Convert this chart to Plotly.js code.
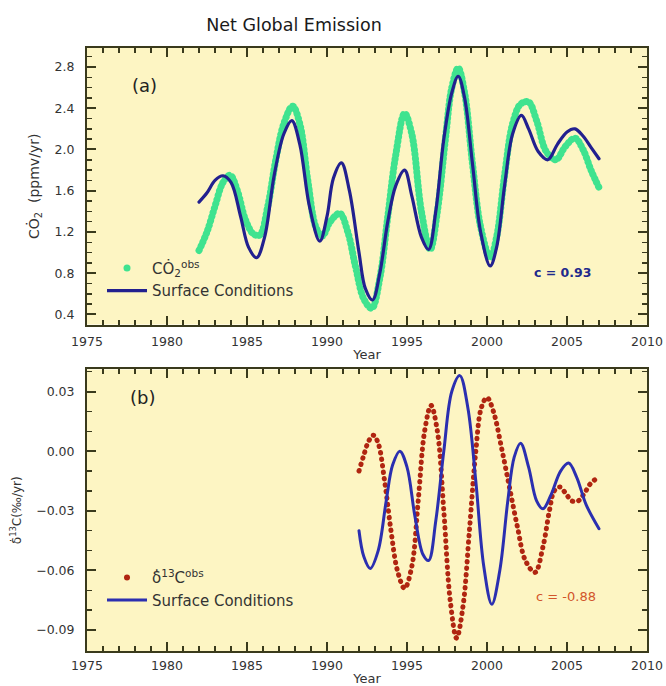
<!DOCTYPE html>
<html>
<head>
<meta charset="utf-8">
<script src="https://cdn.plot.ly/plotly-3.0.1.min.js"></script>
<style>
html,body{margin:0;padding:0;background:#fff;}
#chart{width:666px;height:686px;}
#chart .scatterlayer path.js-line{stroke-linecap:round;stroke-linejoin:round;}
</style>
</head>
<body>
<div id="chart"></div>
<script>
// ---------- Panel (a): CO2 growth rate ----------
const yearsA_obs = [1982.0,1982.5,1983.0,1983.5,1983.95,1984.4,1984.9,1985.4,1985.8,1986.3,1986.8,1987.3,1987.85,1988.3,1988.8,1989.3,1989.7,1990.2,1990.8,1991.3,1991.8,1992.3,1992.8,1993.3,1993.8,1994.3,1994.85,1995.3,1995.9,1996.45,1996.9,1997.4,1997.8,1998.2,1998.6,1999.1,1999.6,2000.2,2000.6,2001.1,2001.6,2002.1,2002.6,2003.1,2003.7,2004.3,2004.9,2005.5,2006.0,2006.5,2007.0];
const co2_obs = [1.02,1.20,1.45,1.68,1.75,1.60,1.32,1.18,1.17,1.45,1.90,2.25,2.42,2.25,1.70,1.25,1.16,1.30,1.38,1.20,0.85,0.55,0.46,0.75,1.35,1.95,2.35,2.15,1.40,1.03,1.40,2.10,2.60,2.79,2.55,1.85,1.25,0.95,1.15,1.75,2.25,2.44,2.46,2.28,1.98,1.90,2.03,2.11,2.00,1.80,1.63];

const yearsA_mod = [1982.0,1982.5,1983.0,1983.5,1984.0,1984.6,1985.1,1985.6,1986.1,1986.7,1987.3,1987.8,1988.3,1988.9,1989.55,1990.0,1990.4,1990.9,1991.4,1992.0,1992.4,1992.85,1993.3,1993.8,1994.3,1994.85,1995.3,1995.9,1996.35,1996.8,1997.3,1997.8,1998.2,1998.6,1999.1,1999.6,2000.2,2000.6,2001.1,2001.6,2002.15,2002.6,2003.2,2003.8,2004.4,2005.0,2005.5,2006.0,2006.5,2007.0];
const co2_mod = [1.49,1.58,1.70,1.745,1.68,1.35,1.05,0.95,1.15,1.75,2.15,2.28,2.05,1.45,1.11,1.35,1.72,1.87,1.60,1.00,0.65,0.54,0.80,1.30,1.65,1.80,1.55,1.15,1.03,1.40,2.10,2.55,2.71,2.50,1.85,1.20,0.87,1.05,1.65,2.15,2.33,2.20,1.98,1.90,2.05,2.17,2.20,2.13,2.02,1.91];

// ---------- Panel (b): delta13C growth rate ----------
const yearsB_obs = [1992.0,1992.3,1992.6,1992.9,1993.2,1993.6,1994.0,1994.4,1994.85,1995.3,1995.7,1996.1,1996.5,1996.9,1997.3,1997.7,1998.1,1998.5,1998.9,1999.3,1999.65,2000.0,2000.4,2000.9,2001.4,2001.9,2002.4,2003.0,2003.5,2003.9,2004.2,2004.55,2004.9,2005.3,2005.7,2006.1,2006.5,2007.0];
const d13c_obs = [-0.010,-0.002,0.005,0.008,0.004,-0.015,-0.040,-0.060,-0.069,-0.058,-0.025,0.010,0.023,0.010,-0.030,-0.075,-0.094,-0.078,-0.040,0.000,0.022,0.027,0.020,0.002,-0.018,-0.038,-0.055,-0.061,-0.048,-0.030,-0.020,-0.018,-0.021,-0.025,-0.025,-0.021,-0.016,-0.013];

const yearsB_mod = [1992.0,1992.3,1992.7,1993.2,1993.7,1994.1,1994.55,1995.0,1995.5,1996.0,1996.35,1996.8,1997.3,1997.8,1998.3,1998.8,1999.3,1999.8,2000.3,2000.8,2001.3,2001.7,2002.1,2002.6,2003.1,2003.5,2004.0,2004.6,2005.1,2005.6,2006.2,2007.0];
const d13c_mod = [-0.040,-0.053,-0.059,-0.050,-0.025,-0.007,0.000,-0.008,-0.033,-0.052,-0.055,-0.035,0.000,0.030,0.038,0.022,-0.015,-0.058,-0.077,-0.060,-0.025,-0.003,0.004,-0.008,-0.025,-0.029,-0.022,-0.010,-0.006,-0.013,-0.027,-0.039];

// ---------- Tick positions ----------
const xTicks = [1975,1980,1985,1990,1995,2000,2005,2010];
const yTicksA = [0.4,0.8,1.2,1.6,2.0,2.4,2.8];
const yTicksB = [-0.09,-0.06,-0.03,0.00,0.03];

// ---------- Labels ----------
const chartTitle = 'Net Global Emission';
const nameCO2obs = 'CȮ<sub>2</sub><sup>obs</sup>';
const nameD13obs = 'δ\u0307<sup>13</sup>C<sup>obs</sup>';
const nameModel = 'Surface Conditions';
const corrA = 'c = 0.93';
const corrB = 'c = -0.88';

const FONT = 'DejaVu Sans, Verdana, sans-serif';
const FRAME = '#3a3a1c';
const GREEN = '#3fe38f';
const NAVY = '#22208f';
const BLUE = '#2b2fb0';
const RED = '#b02510';

const traces = [
  {x: yearsA_obs, y: co2_obs, xaxis:'x', yaxis:'y', mode:'lines', name:nameCO2obs,
   line:{color:GREEN, width:7, shape:'spline', dash:'0.5px,4px'}, showlegend:false},
  {x:[null], y:[null], xaxis:'x', yaxis:'y', mode:'markers', name:nameCO2obs,
   marker:{color:GREEN, size:7}, legend:'legend', showlegend:true},
  {x: yearsA_mod, y: co2_mod, xaxis:'x', yaxis:'y', mode:'lines', name:nameModel,
   line:{color:NAVY, width:3.2, shape:'spline'}, legend:'legend', showlegend:true},

  {x: yearsB_obs, y: d13c_obs, xaxis:'x2', yaxis:'y2', mode:'lines', name:nameD13obs,
   line:{color:RED, width:5, shape:'spline', dash:'0.5px,6px'}, showlegend:false},
  {x:[null], y:[null], xaxis:'x2', yaxis:'y2', mode:'markers', name:nameD13obs,
   marker:{color:RED, size:6}, legend:'legend2', showlegend:true},
  {x: yearsB_mod, y: d13c_mod, xaxis:'x2', yaxis:'y2', mode:'lines', name:nameModel,
   line:{color:BLUE, width:3, shape:'spline'}, legend:'legend2', showlegend:true}
];

function xAxis(anchor, standoffLbl, titleStandoff){
  return {
    domain:[0,1], range:[1975,2010], anchor:anchor,
    tickmode:'array', tickvals:xTicks,
    ticks:'inside', ticklen:9, tickwidth:2, tickcolor:FRAME,
    minor:{tickmode:'linear', tick0:1975, dtick:1, ticks:'inside', ticklen:5, tickwidth:1.5, tickcolor:FRAME},
    showline:true, linecolor:FRAME, linewidth:2, mirror:'ticks',
    showgrid:false, zeroline:false,
    ticklabelstandoff: standoffLbl,
    tickfont:{family:FONT, size:12.5, color:'#333'},
    title:{text:'Year', font:{family:FONT, size:13, color:'#333'}, standoff:titleStandoff},
    automargin:false
  };
}
function yAxis(anchor, domain, range, tv, fmt, minor0, minorD, title, titleSize){
  return {
    domain:domain, range:range, anchor:anchor,
    tickmode:'array', tickvals:tv, tickformat:fmt,
    ticks:'inside', ticklen:9, tickwidth:2, tickcolor:FRAME,
    minor:{tickmode:'linear', tick0:minor0, dtick:minorD, ticks:'inside', ticklen:5, tickwidth:1.5, tickcolor:FRAME},
    showline:true, linecolor:FRAME, linewidth:2, mirror:'ticks',
    showgrid:false, zeroline:false,
    ticklabelstandoff: 8,
    tickfont:{family:FONT, size:12.5, color:'#333'},
    title:{text:title, font:{family:FONT, size:titleSize, color:'#333'}, standoff:12},
    automargin:false
  };
}

const layout = {
  width:666, height:686,
  paper_bgcolor:'#ffffff', plot_bgcolor:'#fdf5c3',
  margin:{l:87, r:19, t:48, b:35},
  font:{family:FONT, color:'#333'},
  title:{text:chartTitle, x:0.4414, xanchor:'center', y:0.9636, yanchor:'middle',
         font:{family:FONT, size:17.5, color:'#1a1a1a'}},
  xaxis: xAxis('y', 4, 2),
  yaxis: yAxis('x', [0.5414,1], [0.302,2.984], yTicksA, '.1f', 0.4, 0.1,
               'CȮ<sub>2</sub>  (ppmv/yr)', 14),
  xaxis2: xAxis('y2', 2, 6),
  yaxis2: yAxis('x2', [0,0.4669], [-0.1005,0.0411], yTicksB, '.2f', 0, 0.01,
               'δ\u0307<sup>13</sup>C(‰/yr)', 12),
  legend:{x:0.0268, y:0.662, xanchor:'left', yanchor:'top', bgcolor:'rgba(0,0,0,0)',
          font:{family:FONT, size:15, color:'#333'}, itemwidth:40, tracegroupgap:0},
  legend2:{x:0.0268, y:0.149, xanchor:'left', yanchor:'top', bgcolor:'rgba(0,0,0,0)',
          font:{family:FONT, size:15, color:'#333'}, itemwidth:40, tracegroupgap:0},
  annotations:[
    {text:'(a)', xref:'paper', yref:'paper', x:0.0768, y:0.9586, showarrow:false,
     font:{family:FONT, size:18, color:'#222'}},
    {text:'(b)', xref:'paper', yref:'paper', x:0.0732, y:0.4205, showarrow:false,
     font:{family:FONT, size:18, color:'#222'}},
    {text:'<b>'+corrA+'</b>', xref:'paper', yref:'paper', x:0.9036, y:0.6275, showarrow:false,
     font:{family:FONT, size:12.5, color:'#1f2a8c'}},
    {text:corrB, xref:'paper', yref:'paper', x:0.9125, y:0.0745, showarrow:false,
     font:{family:FONT, size:13, color:'#d2552a'}}
  ]
};

Plotly.newPlot('chart', traces, layout, {staticPlot:true, displayModeBar:false});
</script>
</body>
</html>
